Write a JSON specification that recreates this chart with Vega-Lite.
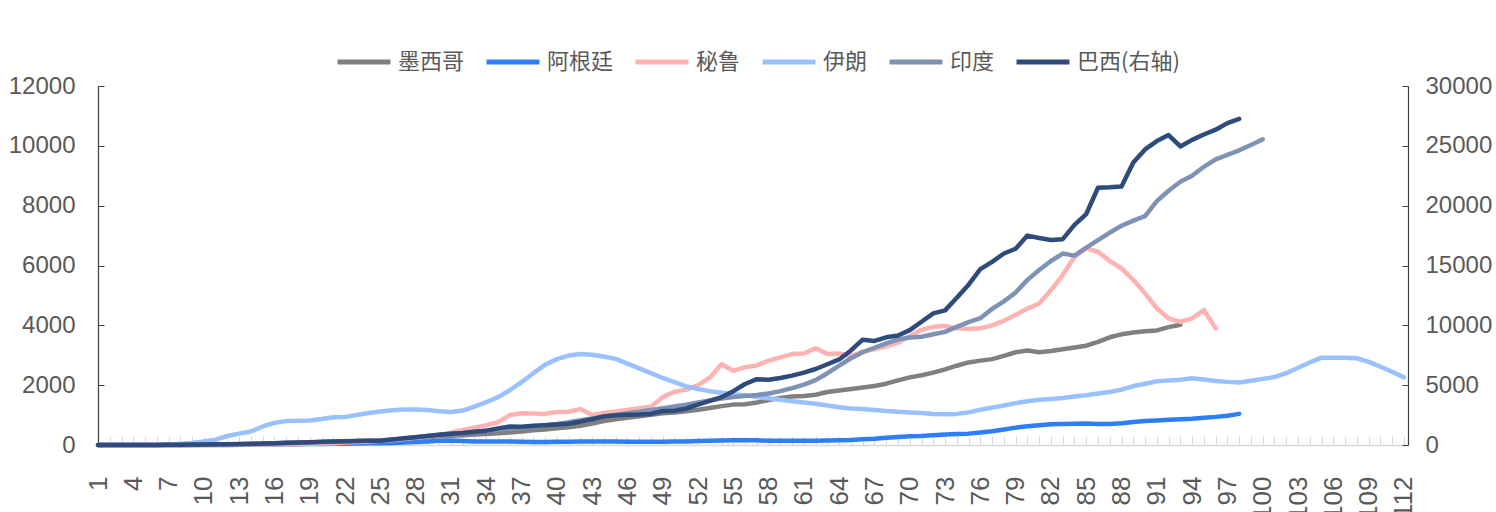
{
  "$schema": "https://vega.github.io/schema/vega-lite/v6.json",
  "width": 1310,
  "height": 359,
  "autosize": {"type": "none"},
  "padding": {"left": 98, "top": 86, "right": 88, "bottom": 67},
  "background": "white",
  "config": {
    "view": {"stroke": null},
    "font": "Liberation Sans, Arial",
    "axis": {"labelColor": "#595959", "title": null, "grid": false, "labelFont": "Liberation Sans, Arial"},
    "legend": {"labelFont": "Noto Sans CJK SC", "labelColor": "#595959"}
  },
  "data": {"values": [
    {"x":1,"墨西哥":0,"阿根廷":0,"秘鲁":0,"伊朗":0,"印度":0,"巴西(右轴)":0},
    {"x":2,"墨西哥":0,"阿根廷":0,"秘鲁":0,"伊朗":0,"印度":0,"巴西(右轴)":0},
    {"x":3,"墨西哥":0,"阿根廷":0,"秘鲁":0,"伊朗":0,"印度":0,"巴西(右轴)":0},
    {"x":4,"墨西哥":0,"阿根廷":0,"秘鲁":0,"伊朗":0,"印度":0,"巴西(右轴)":0},
    {"x":5,"墨西哥":0,"阿根廷":0,"秘鲁":0,"伊朗":5,"印度":0,"巴西(右轴)":0},
    {"x":6,"墨西哥":0,"阿根廷":0,"秘鲁":0,"伊朗":10,"印度":0,"巴西(右轴)":10},
    {"x":7,"墨西哥":0,"阿根廷":0,"秘鲁":0,"伊朗":20,"印度":0,"巴西(右轴)":20},
    {"x":8,"墨西哥":0,"阿根廷":0,"秘鲁":0,"伊朗":40,"印度":0,"巴西(右轴)":30},
    {"x":9,"墨西哥":5,"阿根廷":0,"秘鲁":0,"伊朗":70,"印度":0,"巴西(右轴)":40},
    {"x":10,"墨西哥":10,"阿根廷":0,"秘鲁":0,"伊朗":120,"印度":5,"巴西(右轴)":50},
    {"x":11,"墨西哥":15,"阿根廷":0,"秘鲁":0,"伊朗":180,"印度":10,"巴西(右轴)":60},
    {"x":12,"墨西哥":20,"阿根廷":2,"秘鲁":0,"伊朗":300,"印度":15,"巴西(右轴)":70},
    {"x":13,"墨西哥":25,"阿根廷":5,"秘鲁":0,"伊朗":380,"印度":20,"巴西(右轴)":80},
    {"x":14,"墨西哥":35,"阿根廷":8,"秘鲁":5,"伊朗":450,"印度":25,"巴西(右轴)":100},
    {"x":15,"墨西哥":45,"阿根廷":10,"秘鲁":10,"伊朗":620,"印度":35,"巴西(右轴)":120},
    {"x":16,"墨西哥":55,"阿根廷":15,"秘鲁":15,"伊朗":740,"印度":45,"巴西(右轴)":150},
    {"x":17,"墨西哥":65,"阿根廷":20,"秘鲁":20,"伊朗":800,"印度":55,"巴西(右轴)":180},
    {"x":18,"墨西哥":75,"阿根廷":25,"秘鲁":30,"伊朗":810,"印度":70,"巴西(右轴)":210},
    {"x":19,"墨西哥":85,"阿根廷":30,"秘鲁":40,"伊朗":820,"印度":85,"巴西(右轴)":240},
    {"x":20,"墨西哥":95,"阿根廷":35,"秘鲁":50,"伊朗":870,"印度":100,"巴西(右轴)":270},
    {"x":21,"墨西哥":105,"阿根廷":40,"秘鲁":60,"伊朗":930,"印度":110,"巴西(右轴)":300},
    {"x":22,"墨西哥":115,"阿根廷":45,"秘鲁":80,"伊朗":940,"印度":120,"巴西(右轴)":320},
    {"x":23,"墨西哥":125,"阿根廷":50,"秘鲁":100,"伊朗":1000,"印度":130,"巴西(右轴)":340},
    {"x":24,"墨西哥":130,"阿根廷":55,"秘鲁":120,"伊朗":1070,"印度":140,"巴西(右轴)":350},
    {"x":25,"墨西哥":135,"阿根廷":60,"秘鲁":140,"伊朗":1120,"印度":150,"巴西(右轴)":360},
    {"x":26,"墨西哥":160,"阿根廷":70,"秘鲁":170,"伊朗":1160,"印度":180,"巴西(右轴)":450},
    {"x":27,"墨西哥":200,"阿根廷":80,"秘鲁":200,"伊朗":1190,"印度":220,"巴西(右轴)":560},
    {"x":28,"墨西哥":230,"阿根廷":100,"秘鲁":240,"伊朗":1190,"印度":260,"巴西(右轴)":650},
    {"x":29,"墨西哥":260,"阿根廷":120,"秘鲁":280,"伊朗":1170,"印度":300,"巴西(右轴)":750},
    {"x":30,"墨西哥":290,"阿根廷":140,"秘鲁":330,"伊朗":1130,"印度":340,"巴西(右轴)":850},
    {"x":31,"墨西哥":310,"阿根廷":150,"秘鲁":420,"伊朗":1100,"印度":370,"巴西(右轴)":940},
    {"x":32,"墨西哥":330,"阿根廷":130,"秘鲁":500,"伊朗":1150,"印度":400,"巴西(右轴)":1000},
    {"x":33,"墨西哥":350,"阿根廷":120,"秘鲁":580,"伊朗":1280,"印度":440,"巴西(右轴)":1100},
    {"x":34,"墨西哥":370,"阿根廷":120,"秘鲁":660,"伊朗":1430,"印度":480,"巴西(右轴)":1200},
    {"x":35,"墨西哥":390,"阿根廷":120,"秘鲁":760,"伊朗":1600,"印度":520,"巴西(右轴)":1390},
    {"x":36,"墨西哥":420,"阿根廷":115,"秘鲁":1000,"伊朗":1830,"印度":550,"巴西(右轴)":1540},
    {"x":37,"墨西哥":450,"阿根廷":110,"秘鲁":1060,"伊朗":2100,"印度":580,"巴西(右轴)":1520},
    {"x":38,"墨西哥":490,"阿根廷":100,"秘鲁":1050,"伊朗":2400,"印度":620,"巴西(右轴)":1600},
    {"x":39,"墨西哥":520,"阿根廷":100,"秘鲁":1040,"伊朗":2680,"印度":660,"巴西(右轴)":1660},
    {"x":40,"墨西哥":560,"阿根廷":105,"秘鲁":1100,"伊朗":2870,"印度":700,"巴西(右轴)":1720},
    {"x":41,"墨西哥":590,"阿根廷":110,"秘鲁":1110,"伊朗":2990,"印度":760,"巴西(右轴)":1780},
    {"x":42,"墨西哥":640,"阿根廷":115,"秘鲁":1200,"伊朗":3040,"印度":830,"巴西(右轴)":1950},
    {"x":43,"墨西哥":720,"阿根廷":120,"秘鲁":1000,"伊朗":3020,"印度":890,"巴西(右轴)":2150},
    {"x":44,"墨西哥":800,"阿根廷":120,"秘鲁":1070,"伊朗":2960,"印度":950,"巴西(右轴)":2380},
    {"x":45,"墨西哥":860,"阿根廷":115,"秘鲁":1120,"伊朗":2880,"印度":1000,"巴西(右轴)":2480},
    {"x":46,"墨西哥":910,"阿根廷":110,"秘鲁":1170,"伊朗":2720,"印度":1060,"巴西(右轴)":2530},
    {"x":47,"墨西哥":960,"阿根廷":110,"秘鲁":1230,"伊朗":2560,"印度":1110,"巴西(右轴)":2540},
    {"x":48,"墨西哥":1010,"阿根廷":110,"秘鲁":1280,"伊朗":2400,"印度":1170,"巴西(右轴)":2600},
    {"x":49,"墨西哥":1060,"阿根廷":110,"秘鲁":1600,"伊朗":2240,"印度":1230,"巴西(右轴)":2840},
    {"x":50,"墨西哥":1090,"阿根廷":115,"秘鲁":1780,"伊朗":2100,"印度":1290,"巴西(右轴)":2860},
    {"x":51,"墨西哥":1130,"阿根廷":120,"秘鲁":1850,"伊朗":1960,"印度":1350,"巴西(右轴)":3050},
    {"x":52,"墨西哥":1180,"阿根廷":130,"秘鲁":2000,"伊朗":1870,"印度":1420,"巴西(右轴)":3380},
    {"x":53,"墨西哥":1240,"阿根廷":140,"秘鲁":2250,"伊朗":1800,"印度":1490,"巴西(右轴)":3680},
    {"x":54,"墨西哥":1300,"阿根廷":150,"秘鲁":2700,"伊朗":1750,"印度":1550,"巴西(右轴)":4000},
    {"x":55,"墨西哥":1350,"阿根廷":160,"秘鲁":2480,"伊朗":1700,"印度":1600,"巴西(右轴)":4500},
    {"x":56,"墨西哥":1360,"阿根廷":160,"秘鲁":2600,"伊朗":1660,"印度":1640,"巴西(右轴)":5100},
    {"x":57,"墨西哥":1420,"阿根廷":155,"秘鲁":2660,"伊朗":1600,"印度":1670,"巴西(右轴)":5500},
    {"x":58,"墨西哥":1500,"阿根廷":140,"秘鲁":2820,"伊朗":1560,"印度":1720,"巴西(右轴)":5450},
    {"x":59,"墨西哥":1570,"阿根廷":140,"秘鲁":2930,"伊朗":1510,"印度":1800,"巴西(右轴)":5600},
    {"x":60,"墨西哥":1620,"阿根廷":140,"秘鲁":3040,"伊朗":1460,"印度":1900,"巴西(右轴)":5800},
    {"x":61,"墨西哥":1640,"阿根廷":140,"秘鲁":3060,"伊朗":1420,"印度":2020,"巴西(右轴)":6050},
    {"x":62,"墨西哥":1680,"阿根廷":140,"秘鲁":3230,"伊朗":1380,"印度":2170,"巴西(右轴)":6350},
    {"x":63,"墨西哥":1770,"阿根廷":150,"秘鲁":3040,"伊朗":1320,"印度":2400,"巴西(右轴)":6750},
    {"x":64,"墨西哥":1820,"阿根廷":160,"秘鲁":3060,"伊朗":1260,"印度":2650,"巴西(右轴)":7150},
    {"x":65,"墨西哥":1870,"阿根廷":170,"秘鲁":2970,"伊朗":1220,"印度":2900,"巴西(右轴)":7900},
    {"x":66,"墨西哥":1920,"阿根廷":190,"秘鲁":3120,"伊朗":1200,"印度":3100,"巴西(右轴)":8800},
    {"x":67,"墨西哥":1970,"阿根廷":210,"秘鲁":3200,"伊朗":1170,"印度":3250,"巴西(右轴)":8700},
    {"x":68,"墨西哥":2050,"阿根廷":240,"秘鲁":3300,"伊朗":1140,"印度":3400,"巴西(右轴)":9000},
    {"x":69,"墨西哥":2160,"阿根廷":270,"秘鲁":3420,"伊朗":1110,"印度":3530,"巴西(右轴)":9150},
    {"x":70,"墨西哥":2260,"阿根廷":290,"秘鲁":3640,"伊朗":1090,"印度":3590,"巴西(右轴)":9600},
    {"x":71,"墨西哥":2330,"阿根廷":300,"秘鲁":3850,"伊朗":1070,"印度":3620,"巴西(右轴)":10300},
    {"x":72,"墨西哥":2420,"阿根廷":330,"秘鲁":3950,"伊朗":1040,"印度":3700,"巴西(右轴)":11000},
    {"x":73,"墨西哥":2530,"阿根廷":350,"秘鲁":3980,"伊朗":1030,"印度":3780,"巴西(右轴)":11250},
    {"x":74,"墨西哥":2650,"阿根廷":370,"秘鲁":3900,"伊朗":1040,"印度":3950,"巴西(右轴)":12300},
    {"x":75,"墨西哥":2760,"阿根廷":380,"秘鲁":3880,"伊朗":1090,"印度":4110,"巴西(右轴)":13400},
    {"x":76,"墨西哥":2820,"阿根廷":420,"秘鲁":3900,"伊朗":1180,"印度":4240,"巴西(右轴)":14700},
    {"x":77,"墨西哥":2870,"阿根廷":460,"秘鲁":4000,"伊朗":1250,"印度":4550,"巴西(右轴)":15300},
    {"x":78,"墨西哥":2980,"阿根廷":520,"秘鲁":4150,"伊朗":1320,"印度":4800,"巴西(右轴)":16000},
    {"x":79,"墨西哥":3100,"阿根廷":580,"秘鲁":4350,"伊朗":1400,"印度":5100,"巴西(右轴)":16400},
    {"x":80,"墨西哥":3160,"阿根廷":630,"秘鲁":4560,"伊朗":1460,"印度":5520,"巴西(右轴)":17500},
    {"x":81,"墨西哥":3100,"阿根廷":660,"秘鲁":4730,"伊朗":1510,"印度":5850,"巴西(右轴)":17300},
    {"x":82,"墨西哥":3140,"阿根廷":690,"秘鲁":5180,"伊朗":1540,"印度":6150,"巴西(右轴)":17130},
    {"x":83,"墨西哥":3200,"阿根廷":700,"秘鲁":5680,"伊朗":1570,"印度":6400,"巴西(右轴)":17200},
    {"x":84,"墨西哥":3260,"阿根廷":710,"秘鲁":6290,"伊朗":1620,"印度":6330,"巴西(右轴)":18400},
    {"x":85,"墨西哥":3320,"阿根廷":720,"秘鲁":6570,"伊朗":1660,"印度":6600,"巴西(右轴)":19300},
    {"x":86,"墨西哥":3450,"阿根廷":700,"秘鲁":6460,"伊朗":1720,"印度":6850,"巴西(右轴)":21500},
    {"x":87,"墨西哥":3600,"阿根廷":700,"秘鲁":6150,"伊朗":1770,"印度":7100,"巴西(右轴)":21530},
    {"x":88,"墨西哥":3700,"阿根廷":730,"秘鲁":5900,"伊朗":1850,"印度":7330,"巴西(右轴)":21600},
    {"x":89,"墨西哥":3760,"阿根廷":770,"秘鲁":5520,"伊朗":1970,"印度":7500,"巴西(右轴)":23600},
    {"x":90,"墨西哥":3800,"阿根廷":800,"秘鲁":5070,"伊朗":2050,"印度":7650,"巴西(右轴)":24700},
    {"x":91,"墨西哥":3830,"阿根廷":820,"秘鲁":4570,"伊朗":2130,"印度":8150,"巴西(右轴)":25400},
    {"x":92,"墨西哥":3940,"阿根廷":840,"秘鲁":4230,"伊朗":2160,"印度":8500,"巴西(右轴)":25900},
    {"x":93,"墨西哥":4020,"阿根廷":860,"秘鲁":4120,"伊朗":2180,"印度":8800,"巴西(右轴)":24950},
    {"x":94,"阿根廷":880,"秘鲁":4230,"伊朗":2230,"印度":9000,"巴西(右轴)":25500},
    {"x":95,"阿根廷":910,"秘鲁":4510,"伊朗":2190,"印度":9300,"巴西(右轴)":25950},
    {"x":96,"阿根廷":940,"秘鲁":3900,"伊朗":2140,"印度":9550,"巴西(右轴)":26350},
    {"x":97,"阿根廷":980,"伊朗":2110,"印度":9700,"巴西(右轴)":26900},
    {"x":98,"阿根廷":1040,"伊朗":2090,"印度":9850,"巴西(右轴)":27250},
    {"x":99,"伊朗":2150,"印度":10030},
    {"x":100,"伊朗":2210,"印度":10220},
    {"x":101,"伊朗":2270},
    {"x":102,"伊朗":2400},
    {"x":103,"伊朗":2580},
    {"x":104,"伊朗":2760},
    {"x":105,"伊朗":2920},
    {"x":106,"伊朗":2920},
    {"x":107,"伊朗":2920},
    {"x":108,"伊朗":2900},
    {"x":109,"伊朗":2780},
    {"x":110,"伊朗":2620},
    {"x":111,"伊朗":2450},
    {"x":112,"伊朗":2260}
  ]},
  "encoding": {
    "x": {
      "field": "x", "type": "quantitative",
      "scale": {"domain": [1, 112.35], "nice": false, "zero": false},
      "axis": {
        "values": [1,2,3,4,5,6,7,8,9,10,11,12,13,14,15,16,17,18,19,20,21,22,23,24,25,26,27,28,29,30,31,32,33,34,35,36,37,38,39,40,41,42,43,44,45,46,47,48,49,50,51,52,53,54,55,56,57,58,59,60,61,62,63,64,65,66,67,68,69,70,71,72,73,74,75,76,77,78,79,80,81,82,83,84,85,86,87,88,89,90,91,92,93,94,95,96,97,98,99,100,101,102,103,104,105,106,107,108,109,110,111,112],
        "format": "d",
        "labelExpr": "(datum.value - 1) % 3 == 0 ? datum.label : ''",
        "labelAngle": -90,
        "labelFontSize": 26,
        "labelOverlap": false,
        "labelFlush": false,
        "labelBound": false,
        "labelPadding": 40,
        "tickSize": -9,
        "tickColor": "#d9d9d9",
        "tickWidth": 1,
        "domainColor": "#d9d9d9",
        "domainWidth": 1.5
      }
    }
  },
  "layer": [
    {
      "transform": [
        {"fold": ["墨西哥", "阿根廷", "秘鲁", "伊朗", "印度"], "as": ["s", "v"]},
        {"filter": "isValid(datum.v)"}
      ],
      "mark": {"type": "line", "strokeWidth": 4.5, "strokeJoin": "round", "strokeCap": "round"},
      "encoding": {
        "y": {
          "field": "v", "type": "quantitative",
          "scale": {"domain": [0, 12000], "nice": false},
          "axis": {
            "orient": "left",
            "values": [0, 2000, 4000, 6000, 8000, 10000, 12000],
            "format": "d",
            "labelFontSize": 24,
            "tickSize": -6,
            "labelPadding": 29,
            "tickColor": "#404040",
            "domainColor": "#404040",
            "domainWidth": 1.2
          }
        },
        "color": {
          "field": "s", "type": "nominal",
          "scale": {
            "domain": ["墨西哥", "阿根廷", "秘鲁", "伊朗", "印度", "巴西(右轴)"],
            "range": ["#808080", "#2e7ef8", "#ffb2b2", "#99c0ff", "#7f92b4", "#2f4b7c"]
          },
          "legend": {
            "orient": "none",
            "legendX": 237,
            "legendY": -53,
            "direction": "horizontal",
            "title": null,
            "symbolType": "stroke",
            "symbolSize": 2800,
            "symbolStrokeWidth": 5,
            "labelFontSize": 22,
            "labelOffset": 5,
            "columnPadding": 11
          }
        }
      }
    },
    {
      "transform": [
        {"fold": ["巴西(右轴)"], "as": ["s", "v"]},
        {"filter": "isValid(datum.v)"}
      ],
      "mark": {"type": "line", "strokeWidth": 4.5, "strokeJoin": "round", "strokeCap": "round"},
      "encoding": {
        "y": {
          "field": "v", "type": "quantitative",
          "scale": {"domain": [0, 30000], "nice": false},
          "axis": {
            "orient": "right",
            "values": [0, 5000, 10000, 15000, 20000, 25000, 30000],
            "format": "d",
            "labelFontSize": 24,
            "tickSize": -6,
            "labelPadding": 23,
            "tickColor": "#404040",
            "domainColor": "#404040",
            "domainWidth": 1.2
          }
        },
        "color": {"field": "s", "type": "nominal"}
      }
    }
  ],
  "resolve": {"scale": {"y": "independent"}}
}
